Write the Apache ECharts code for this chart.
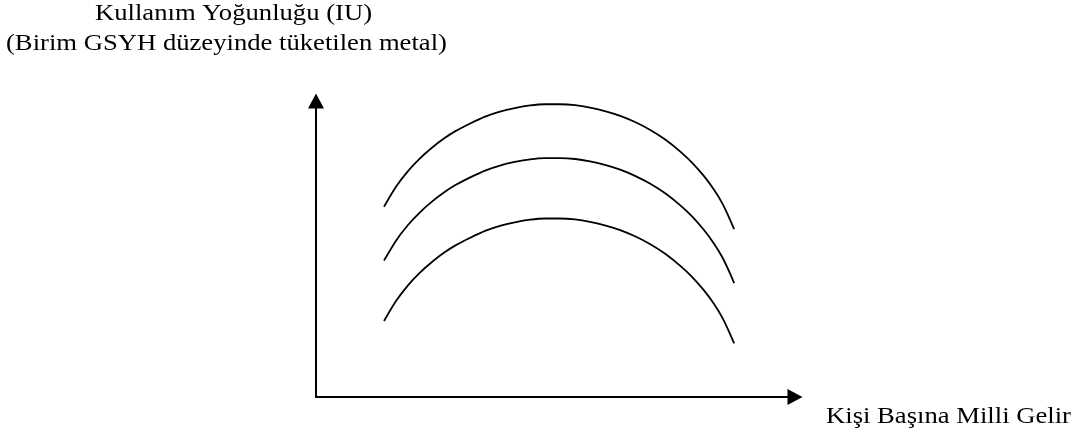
<!DOCTYPE html>
<html>
<head>
<meta charset="utf-8">
<title>Kullanım Yoğunluğu</title>
<script src="https://cdn.jsdelivr.net/npm/echarts@6/dist/echarts.min.js"></script>
<style>
  html, body { margin: 0; padding: 0; background: #fff; }
  #main { width: 1081px; height: 441px; }
</style>
</head>
<body>
<div id="main"></div>
<script>
"use strict"
// x: kişi başına gelir (0-100), y: kullanım yoğunluğu (0-100)
var incomeLevels = [14.2, 16.7, 19.2, 21.7, 24.2, 26.7, 29.2, 32.2, 35.3, 38.4, 41.5, 44.7, 47.8, 50.9,
	54.1, 57.2, 60.3, 63.5, 66.6, 69.7, 72.9, 76.0, 78.5, 81.0, 83.1, 84.8, 86.2, 87.3];
var upperCurve  = [64.3, 71.0, 76.3, 80.6, 84.2, 87.3, 89.9, 92.4, 94.7, 96.4, 97.6, 98.5, 98.9, 98.9,
	98.6, 97.8, 96.6, 95.0, 92.9, 90.3, 87.0, 83.0, 79.2, 74.6, 70.0, 65.5, 60.8, 56.7];
var middleCurve = [46.1, 52.8, 58.1, 62.4, 66.0, 69.1, 71.7, 74.2, 76.5, 78.2, 79.4, 80.3, 80.7, 80.7,
	80.4, 79.6, 78.4, 76.8, 74.7, 72.1, 68.8, 64.8, 61.0, 56.4, 51.8, 47.3, 42.6, 38.5];
var lowerCurve  = [25.7, 32.4, 37.7, 42.0, 45.6, 48.7, 51.3, 53.8, 56.1, 57.8, 59.0, 59.9, 60.3, 60.3,
	60.0, 59.2, 58.0, 56.4, 54.3, 51.7, 48.4, 44.4, 40.6, 36.0, 31.4, 26.9, 22.2, 18.1];

var yTitle1 = 'Kullanım Yoğunluğu (IU)';
var yTitle2 = '(Birim GSYH düzeyinde tüketilen metal)';
var xTitle = 'Kişi Başına Milli Gelir';

function pairs(ys) {
	return incomeLevels.map(function (x, i) { return [x, ys[i]]; });
}

var myChart = echarts.init(document.getElementById('main'));

var axisCommon = {
	type: 'value',
	min: 0,
	max: 100,
	axisLine: {
		show: true,
		symbol: ['none', 'triangle'],
		symbolSize: [16, 15],
		lineStyle: { color: '#000', width: 2 }
	},
	axisTick: { show: false },
	axisLabel: { show: false },
	splitLine: { show: false }
};

function curve(name, ys) {
	return {
		name: name,
		type: 'line',
		smooth: 0.2,
		symbol: 'none',
		silent: true,
		lineStyle: { color: '#000', width: 1.8 },
		data: pairs(ys)
	};
}

// source picture is a bit wider than tall, labels widened to match
var labelFont = '24px "Liberation Serif"';
function label(text, x, y) {
	return { type: 'text', x: x, y: y, scaleX: 1.11, style: { text: text, font: labelFont, fill: '#000' } };
}

var option = {
	animation: false,
	backgroundColor: '#fff',
	grid: { left: 316, right: 286, top: 101, bottom: 44 },
	xAxis: axisCommon,
	yAxis: axisCommon,
	graphic: [
		label(yTitle1, 95, 2),
		label(yTitle2, 6, 32),
		label(xTitle, 826, 405)
	],
	series: [
		curve('upper', upperCurve),
		curve('middle', middleCurve),
		curve('lower', lowerCurve)
	]
};

myChart.setOption(option);
</script>
</body>
</html>
